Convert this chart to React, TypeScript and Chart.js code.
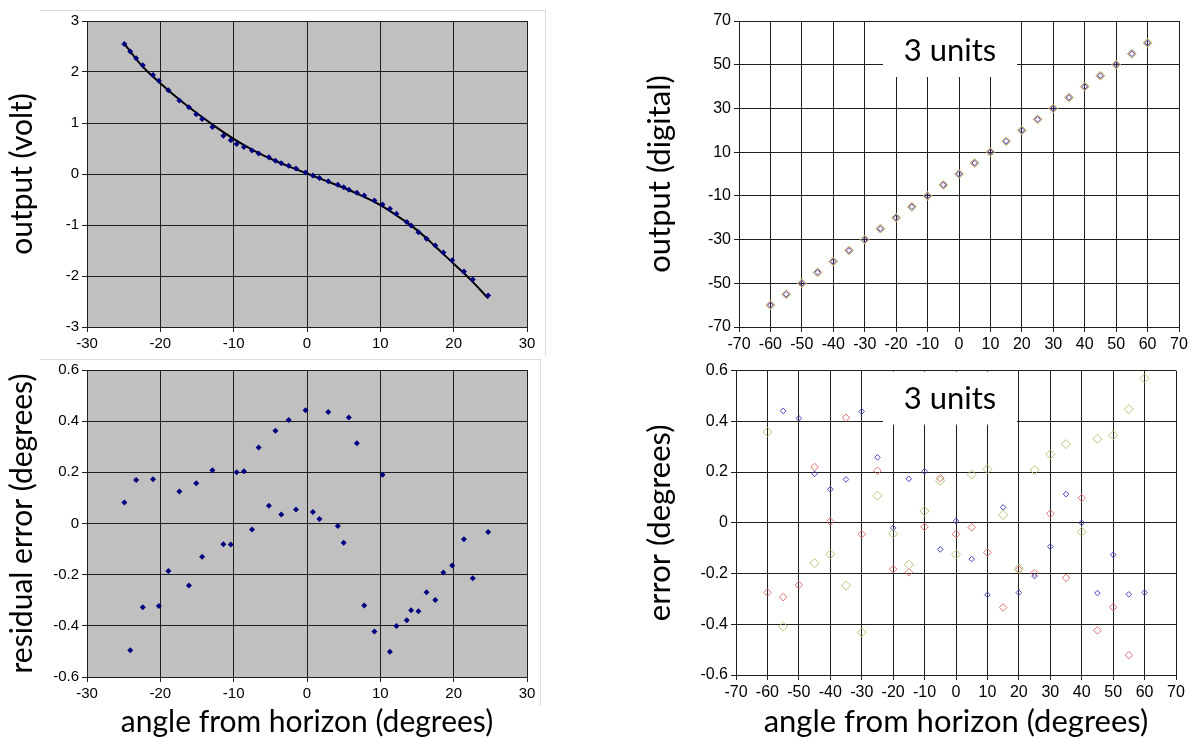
import React, { useEffect, useRef } from "react";
import { Chart, registerables } from "chart.js";
Chart.register(...registerables);

// ---------- data (left panels) ----------
const angleDeg = [-24.9, -24.1, -23.3, -22.4, -21.0, -20.2, -18.9, -17.4, -16.1, -15.1,
  -14.3, -12.9, -11.4, -10.4, -9.6, -8.6, -7.5, -6.6, -5.2, -4.3,
  -3.5, -2.5, -1.5, -0.2, 0.8, 1.7, 2.9, 4.2, 5.0, 5.7,
  6.8, 7.8, 9.2, 10.3, 11.3, 12.2, 13.6, 14.2, 15.2, 16.3,
  17.5, 18.6, 19.8, 21.4, 22.6, 24.7];
const outputVolt = [2.55, 2.40, 2.27, 2.13, 1.94, 1.83, 1.64, 1.44, 1.31, 1.17,
  1.08, 0.92, 0.75, 0.66, 0.59, 0.53, 0.46, 0.40, 0.33, 0.26,
  0.21, 0.16, 0.11, 0.03, -0.03, -0.08, -0.14, -0.21, -0.26, -0.31,
  -0.37, -0.42, -0.52, -0.60, -0.68, -0.78, -0.94, -1.01, -1.14, -1.27,
  -1.40, -1.54, -1.69, -1.91, -2.07, -2.38];
const residualDeg = [0.082, -0.495, 0.17, -0.327, 0.173, -0.322, -0.186, 0.125, -0.242, 0.157,
  -0.13, 0.208, -0.081, -0.082, 0.2, 0.204, -0.023, 0.297, 0.069, 0.363,
  0.035, 0.405, 0.055, 0.443, 0.045, 0.018, 0.436, -0.01, -0.075, 0.414,
  0.314, -0.321, -0.422, 0.191, -0.501, -0.401, -0.378, -0.339, -0.343, -0.269,
  -0.299, -0.192, -0.164, -0.062, -0.214, -0.033];
const fitAngle = [-25, -22.5, -20, -17.5, -15, -12.5, -10, -7.5, -5, -2.5, 0, 2.5, 5, 7.5, 10, 12.5, 15, 17.5, 20, 22.5, 24.7];
const fitVolt = [2.57, 2.12, 1.78, 1.47, 1.19, 0.93, 0.69, 0.48, 0.30, 0.15, 0.01, -0.13, -0.27, -0.43, -0.61, -0.84, -1.10, -1.42, -1.76, -2.10, -2.44];

// ---------- data (right panels) ----------
const refAngle = [-60, -55, -50, -45, -40, -35, -30, -25, -20, -15, -10, -5, 0, 5, 10, 15, 20, 25, 30, 35, 40, 45, 50, 55, 60];
const outputDigital = [-60, -55, -50, -45, -40, -35, -30, -25, -20, -15, -10, -5, 0, 5, 10, 15, 20, 25, 30, 35, 40, 45, 50, 55, 60];
const errBlue = [null, 0.441, 0.412, 0.193, 0.132, 0.171, 0.439, 0.258, -0.02, 0.173, 0.203, -0.105, 0.007, -0.143, -0.284, 0.061, -0.275, -0.21, -0.094, 0.113, 0.0, -0.277, -0.126, -0.282, -0.275];
const errRed = [-0.275, -0.293, -0.245, 0.22, 0.005, 0.414, -0.045, 0.205, -0.183, -0.195, -0.016, 0.176, -0.045, -0.018, -0.117, -0.334, -0.185, -0.198, 0.036, -0.217, 0.098, -0.424, -0.333, -0.522, null];
const errGreen = [0.358, -0.409, null, -0.159, -0.124, -0.248, -0.432, 0.107, -0.043, -0.165, 0.046, 0.166, -0.124, 0.19, 0.211, 0.031, -0.18, 0.208, 0.27, 0.31, -0.035, 0.331, 0.345, 0.448, 0.569];

const leftXTicks = [-30, -20, -10, 0, 10, 20, 30];
const rightXTicks = [-70, -60, -50, -40, -30, -20, -10, 0, 10, 20, 30, 40, 50, 60, 70];

const NAVY = "#000080";
const BLUE = "#4646c3";
const RED = "#e07272";
const GREEN = "#b2c97a";
const GRID = "#1e1e1e";

const TICK_FONT_L = { family: "'Liberation Sans', Arial, sans-serif", size: 15 };
const TICK_FONT_R = { family: "'Liberation Sans', Arial, sans-serif", size: 16 };
const TITLE_FONT_L = { family: "Lato, sans-serif", size: 30, lineHeight: 1 };
const TITLE_FONT_R = { family: "Lato, sans-serif", size: 31, lineHeight: 1 };

const pts = (xs: number[], ys: (number | null)[]) => xs.map((x, i) => ({ x, y: ys[i] }));
const fmt = (v: any) => String(Math.round(Number(v) * 10) / 10);

function plotFill(color: string) {
  return {
    id: "plotFill",
    beforeDraw(chart: any) {
      const { ctx, chartArea: a } = chart;
      ctx.save();
      ctx.fillStyle = color;
      ctx.fillRect(a.left, a.top, a.right - a.left, a.bottom - a.top);
      ctx.restore();
    },
  };
}

function unitsBox(offLeft: number, boxW: number, boxH: number, textY: number) {
  return {
    id: "unitsBox",
    beforeDatasetsDraw(chart: any) {
      const { ctx, chartArea: a } = chart;
      ctx.save();
      ctx.fillStyle = "#ffffff";
      ctx.fillRect(a.left + offLeft, a.top + 1, boxW, boxH - 1);
      ctx.fillStyle = "#000000";
      ctx.font = "31px Lato, sans-serif";
      ctx.textAlign = "center";
      ctx.textBaseline = "middle";
      ctx.fillText("3 units", a.left + offLeft + boxW / 2, a.top + textY);
      ctx.restore();
    },
  };
}

function axis(min: number, max: number, step: number, fitSize: number, horizontal: boolean, font: any, title?: string, titleFont?: any, titlePad?: any, ticks?: number[]) {
  const a: any = {
    type: "linear",
    min,
    max,
    grid: { color: GRID, lineWidth: 1, drawTicks: true, tickLength: 5, tickColor: GRID },
    border: { color: GRID, width: 1 },
    ticks: {
      stepSize: step,
      color: "#000",
      font,
      padding: 3,
      autoSkip: false,
      maxRotation: 0,
      callback: fmt,
    },
    afterFit: (s: any) => {
      if (horizontal) s.height = fitSize;
      else s.width = fitSize;
    },
  };
  if (ticks) {
    a.afterBuildTicks = (s: any) => {
      s.ticks = ticks.map((v) => ({ value: v }));
    };
  }
  if (title) {
    a.title = { display: true, text: title, color: "#000", font: titleFont, padding: titlePad };
  }
  return a;
}

function baseOptions(padding: any, x: any, y: any) {
  return {
    responsive: false,
    maintainAspectRatio: false,
    animation: false,
    layout: { padding },
    plugins: { legend: { display: false }, tooltip: { enabled: false } },
    scales: { x, y },
  };
}

function Panel({ left, top, width, height, build }: any) {
  const ref = useRef<HTMLCanvasElement>(null);
  useEffect(() => {
    const chart = new Chart(ref.current as HTMLCanvasElement, build());
    return () => chart.destroy();
  }, []);
  return (
    <canvas
      ref={ref}
      width={width}
      height={height}
      style={{ position: "absolute", left, top, width, height }}
    />
  );
}

const buildTL = () => ({
  type: "scatter",
  data: {
    datasets: [
      {
        data: pts(fitAngle, fitVolt),
        showLine: true,
        borderColor: "#000",
        borderWidth: 2,
        pointRadius: 0,
        tension: 0.4,
        order: 2,
      },
      {
        data: pts(angleDeg, outputVolt),
        pointStyle: "rectRot",
        pointRadius: 3,
        backgroundColor: NAVY,
        borderColor: NAVY,
        borderWidth: 0,
        order: 1,
      },
    ],
  },
  options: baseOptions(
    { left: 0, top: 21, right: 33, bottom: 0 },
    axis(-30, 30, 10, 31, true, TICK_FONT_L, undefined, undefined, undefined, leftXTicks),
    axis(-3, 3, 1, 87, false, TICK_FONT_L, "output (volt)", TITLE_FONT_L, { top: 7, bottom: 0 })
  ),
  plugins: [plotFill("#c0c0c0")],
});

const buildBL = () => ({
  type: "scatter",
  data: {
    datasets: [
      {
        data: pts(angleDeg, residualDeg),
        pointStyle: "rectRot",
        pointRadius: 3,
        backgroundColor: NAVY,
        borderColor: NAVY,
        borderWidth: 0,
      },
    ],
  },
  options: baseOptions(
    { left: 0, top: 11, right: 33, bottom: 0 },
    axis(-30, 30, 10, 61, true, TICK_FONT_L, "angle from horizon (degrees)", TITLE_FONT_L, { top: 0, bottom: 1 }, leftXTicks),
    axis(-0.6, 0.6, 0.2, 87, false, TICK_FONT_L, "residual error (degrees)", TITLE_FONT_L, { top: 7, bottom: 0 })
  ),
  plugins: [plotFill("#c0c0c0")],
});

const hollow = (data: any, color: string, r: number) => ({
  data,
  pointStyle: "rectRot",
  pointRadius: r,
  backgroundColor: "rgba(255,255,255,0)",
  borderColor: color,
  borderWidth: 1,
});

const buildTR = () => ({
  type: "scatter",
  data: {
    datasets: [
      hollow(pts(refAngle, outputDigital), GREEN, 4.5),
      hollow(pts(refAngle, outputDigital), RED, 3.8),
      hollow(pts(refAngle, outputDigital), BLUE, 2.8),
    ],
  },
  options: baseOptions(
    { left: 0, top: 21, right: 13, bottom: 0 },
    axis(-70, 70, 10, 31, true, TICK_FONT_R, undefined, undefined, undefined, rightXTicks),
    axis(-70, 70, 20, 139, false, TICK_FONT_R, "output (digital)", TITLE_FONT_R, { top: 44.5, bottom: 0 })
  ),
  plugins: [plotFill("#ffffff"), unitsBox(144, 134, 56, 30)],
});

const buildBR = () => ({
  type: "scatter",
  data: {
    datasets: [
      hollow(pts(refAngle, errGreen), GREEN, 4.5),
      hollow(pts(refAngle, errRed), RED, 3.8),
      hollow(pts(refAngle, errBlue), BLUE, 2.8),
    ],
  },
  options: baseOptions(
    { left: 0, top: 11, right: 16, bottom: 0 },
    axis(-70, 70, 10, 63, true, TICK_FONT_R, "angle from horizon (degrees)", TITLE_FONT_R, { top: 0, bottom: 0.5 }, rightXTicks),
    axis(-0.6, 0.6, 0.2, 136, false, TICK_FONT_R, "error (degrees)", TITLE_FONT_R, { top: 44.5, bottom: 0 })
  ),
  plugins: [plotFill("#ffffff"), unitsBox(147, 134, 54, 28)],
});

const frameLine = (left: number, top: number, width: number, height: number) => (
  <div style={{ position: "absolute", left, top, width, height, background: "#dcdcdc" }} />
);

export default function App() {
  return (
    <div style={{ position: "absolute", left: 0, top: 0, width: 1192, height: 738, background: "#fff", overflow: "hidden" }}>
      {frameLine(40, 10, 505, 1)}
      {frameLine(545, 10, 1, 346)}
      {frameLine(40, 359, 501, 1)}
      {frameLine(540, 359, 1, 347)}
      <Panel left={0} top={0} width={560} height={358} build={buildTL} />
      <Panel left={0} top={358} width={560} height={380} build={buildBL} />
      <Panel left={600} top={0} width={592} height={358} build={buildTR} />
      <Panel left={600} top={358} width={592} height={380} build={buildBR} />
    </div>
  );
}
